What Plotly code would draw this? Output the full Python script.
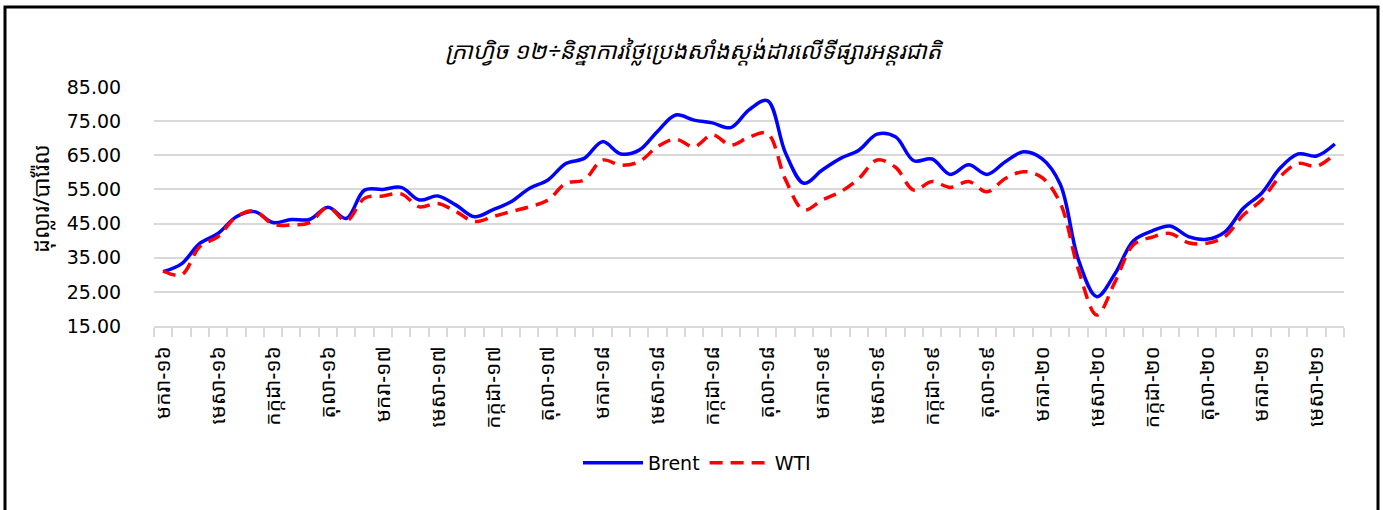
import plotly.graph_objects as go

# Months Jan-2016 .. May-2021 (65 monthly points)
months = list(range(65))
tick_positions = list(range(0, 65, 3))
tick_labels = [
    "មករា-១៦", "មេសា-១៦", "កក្កដា-១៦", "តុលា-១៦",
    "មករា-១៧", "មេសា-១៧", "កក្កដា-១៧", "តុលា-១៧",
    "មករា-១៨", "មេសា-១៨", "កក្កដា-១៨", "តុលា-១៨",
    "មករា-១៩", "មេសា-១៩", "កក្កដា-១៩", "តុលា-១៩",
    "មករា-២០", "មេសា-២០", "កក្កដា-២០", "តុលា-២០",
    "មករា-២១", "មេសា-២១",
]

brent = [30.9, 33.2, 39.2, 42.1, 47.0, 48.5, 45.3, 46.2, 46.2, 49.8, 46.5, 54.8,
         55.0, 55.6, 51.9, 53.1, 50.4, 47.0, 49.0, 51.4, 55.3, 57.7, 62.6, 64.1,
         69.0, 65.4, 66.5, 72.0, 76.8, 75.3, 74.5, 73.1, 78.3, 81.0, 65.6, 56.8,
         60.7, 64.1, 66.5, 71.2, 70.4, 63.4, 63.9, 59.4, 62.2, 59.4, 63.1, 66.0,
         64.0, 56.5, 34.3, 23.6, 30.4, 40.0, 42.8, 44.3, 41.2, 40.4, 42.6, 49.5,
         53.9, 61.2, 65.4, 64.8, 68.3]

wti = [31.1, 30.0, 38.2, 41.2, 47.0, 48.7, 44.8, 44.6, 45.3, 49.8, 45.8, 52.4,
       53.1, 53.7, 49.9, 50.9, 48.5, 45.6, 47.0, 48.5, 49.9, 51.8, 56.8, 57.8,
       63.6, 62.1, 63.1, 67.5, 69.7, 67.5, 71.0, 68.0, 70.3, 71.4, 57.8, 49.0,
       51.9, 54.3, 58.2, 63.6, 61.5, 54.8, 57.3, 55.6, 57.3, 54.3, 58.2, 60.2,
       58.5, 51.0, 31.4, 18.2, 28.0, 38.8, 41.0, 42.1, 39.4, 39.2, 41.2, 47.5,
       51.9, 58.7, 62.6, 61.8, 65.4]

y_ticks = [15, 25, 35, 45, 55, 65, 75, 85]

title_text = "ក្រាហ្វិច ១២÷និន្នាការថ្លៃប្រេងសាំងស្តង់ដារលើទីផ្សារអន្តរជាតិ"
y_title = "ដុល្លារ/បារ៉ែល"

KH = "Khmer OS, Noto Sans Khmer, Khmer OS System, DejaVu Sans, sans-serif"
NUM = "Tahoma, Verdana, DejaVu Sans, sans-serif"

fig = go.Figure()
fig.add_trace(go.Scatter(
    x=months, y=brent, name="Brent", mode="lines",
    line=dict(color="#0000FF", width=3.5, shape="spline", smoothing=1.0),
))
fig.add_trace(go.Scatter(
    x=months, y=wti, name="WTI", mode="lines",
    line=dict(color="#FF0000", width=3.5, shape="spline", smoothing=1.0,
              dash="13px,8px"),
))

W, H = 1383, 510
L, R, T, B = 154, 39, 87, 184
pw, ph = W - L - R, H - T - B

def px(xp):
    return (xp - L) / pw

def py(yp):
    return (H - B - yp) / ph

fig.update_layout(
    width=W, height=H,
    margin=dict(l=L, r=R, t=T, b=B, autoexpand=False),
    paper_bgcolor="white", plot_bgcolor="white",
    showlegend=True,
    legend=dict(orientation="h", x=px(697), y=py(463), xanchor="center",
                yanchor="middle", font=dict(family=NUM, size=19, color="black"),
                itemwidth=60, tracegroupgap=0),
    xaxis=dict(
        range=[-0.5, 64.5], showgrid=False, zeroline=False,
        showline=True, linecolor="#D9D9D9", linewidth=1.5,
        tickmode="array", tickvals=tick_positions, ticktext=tick_labels,
        tickangle=-90, ticks="outside", ticklen=10, tickcolor="rgba(0,0,0,0)",
        tickfont=dict(family=KH, size=21, color="black"),
        minor=dict(tick0=-0.5, dtick=1, ticks="outside", ticklen=9,
                   tickcolor="#D9D9D9", tickwidth=1.5, showgrid=False),
    ),
    yaxis=dict(
        range=[15, 85], tickmode="array", tickvals=y_ticks,
        ticktext=[f"{v:.2f}" for v in y_ticks],
        showgrid=True, gridcolor="#D9D9D9", gridwidth=1.5, zeroline=False,
        showline=False, ticks="outside", ticklen=28, tickcolor="rgba(0,0,0,0)",
        tickfont=dict(family=NUM, size=19, color="black"),
    ),
    annotations=[
        dict(text=title_text, xref="paper", yref="paper", x=px(694), y=py(50),
             showarrow=False, xanchor="center", yanchor="middle",
             font=dict(family=KH, size=23, color="black", style="italic")),
        dict(text=y_title, xref="paper", yref="paper", x=px(40), y=py(198),
             showarrow=False, xanchor="center", yanchor="middle", textangle=-90,
             font=dict(family=KH, size=22, color="black")),
    ],
    shapes=[
        dict(type="rect", xref="paper", yref="paper",
             x0=px(5), x1=px(1378), y0=py(520), y1=py(7),
             line=dict(color="black", width=3), fillcolor="rgba(0,0,0,0)",
             layer="above"),
    ],
)

fig.write_html(
    "out.html",
    config={"displayModeBar": False},
    post_script="document.body.style.margin='0';document.body.style.padding='0';",
)
